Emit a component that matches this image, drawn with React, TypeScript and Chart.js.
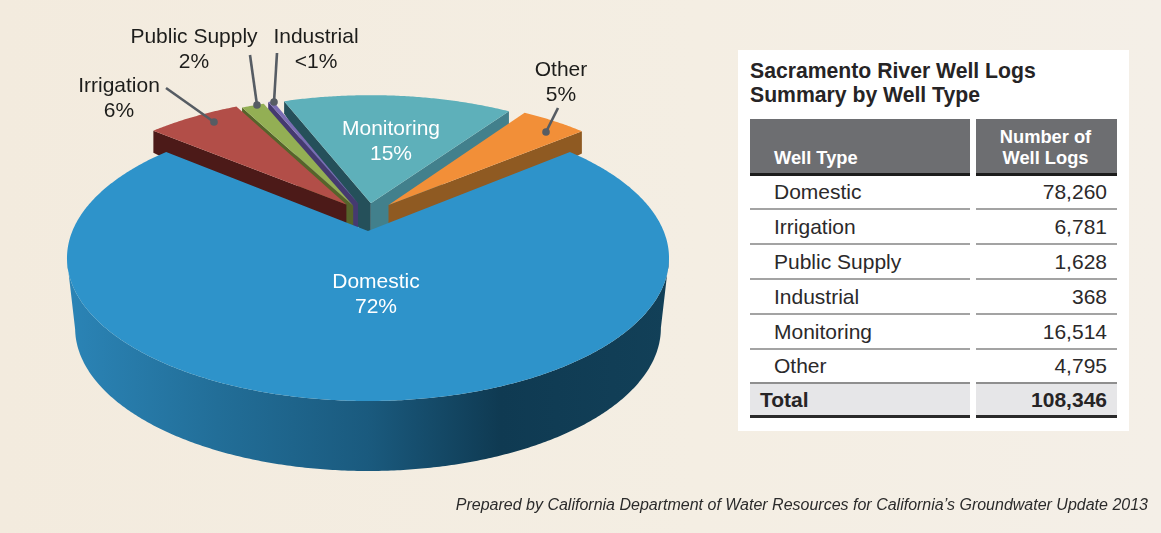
import React, { useEffect, useRef } from "react";
import { Chart, registerables } from "chart.js";

Chart.register(...registerables);

const categories = ["Domestic", "Irrigation", "Public Supply", "Industrial", "Monitoring", "Other"];
const wellLogs = [78260, 6781, 1628, 368, 16514, 4795];
const tableValues = ["78,260", "6,781", "1,628", "368", "16,514", "4,795"];
const percentLabels = ["72%", "6%", "2%", "<1%", "15%", "5%"];
const totalLabel = "108,346";
const topColors = ["#2e93ca", "#b24e48", "#93af54", "#7a6db4", "#5eb0ba", "#f28f38"];
const leftWallColors = ["", "#4c1a18", "#56642a", "#453a70", "#25505a", ""];
const rightWallColors = ["", "", "", "", "#42808c", "#8f5a22"];

// Explosion of each slice on the pie's ground plane, in radii.
const explodeX = [0, -0.076, -0.052, -0.035, 0.01, 0.072];
const explodeY = [0, 0.2, 0.19, 0.21, 0.21, 0.195];
const drawOrder = [4, 3, 2, 1, 5, 0];

// Perspective camera of the pie.
const CX = 368;
const CY = 231;
const SCALE_X = 295.6;
const SCALE_Y = 137.9;
const PERSPECTIVE = 0.1888;
const FRONT_DEPTH = 70;
const FRONT_SHRINK = 0.973;

const project = (x: number, y: number) => {
  const f = 1 + PERSPECTIVE * y;
  return { x: CX + (SCALE_X * x) / f, y: CY - (SCALE_Y * y) / f };
};
const wallDepth = (y: number) => 50 - 33 * y;

// label, centre x, first baseline-middle y, colour
const labelLayout = [
  { x: 376, y: 282.5, color: "#ffffff" },
  { x: 119, y: 86.5, color: "#1d1d1b" },
  { x: 194, y: 37, color: "#1d1d1b" },
  { x: 316, y: 37, color: "#1d1d1b" },
  { x: 391, y: 129, color: "#ffffff" },
  { x: 561, y: 70.5, color: "#1d1d1b" },
];
const leaderLines = [
  [166, 88, 214, 122],
  [250, 55, 257, 105],
  [277, 53, 274, 102],
  [558, 108, 546, 132],
];

const FONT = '"Liberation Sans", Arial, sans-serif';

const piePlugin = {
  id: "perspectivePie",
  beforeDatasetsDraw(chart: any) {
    const ctx: CanvasRenderingContext2D = chart.ctx;
    const arcs = chart.getDatasetMeta(0).data;
    ctx.save();
    for (const i of drawOrder) {
      const arc = arcs[i];
      const { startAngle, endAngle } = arc.getProps(["startAngle", "endAngle"], true);
      const sx = explodeX[i];
      const sy = explodeY[i];
      const world = (a: number) => ({ x: Math.cos(a) + sx, y: -Math.sin(a) + sy });
      const steps = Math.max(4, Math.ceil(((endAngle - startAngle) * 180) / Math.PI / 0.5));
      const rim: { x: number; y: number }[] = [];
      for (let s = 0; s <= steps; s++) rim.push(world(startAngle + ((endAngle - startAngle) * s) / steps));
      const apex = { x: sx, y: sy };

      const wall = (edge: { x: number; y: number }, color: string) => {
        if (!color) return;
        const a = project(apex.x, apex.y);
        const e = project(edge.x, edge.y);
        ctx.beginPath();
        ctx.moveTo(a.x, a.y);
        ctx.lineTo(e.x, e.y);
        ctx.lineTo(e.x, e.y + wallDepth(edge.y));
        ctx.lineTo(a.x, a.y + wallDepth(apex.y));
        ctx.closePath();
        ctx.fillStyle = color;
        ctx.fill();
      };

      if (i === 0) {
        const front = rim.filter((p) => p.y <= -PERSPECTIVE);
        front.sort((p, q) => p.x - q.x);
        const grad = ctx.createLinearGradient(67, 0, 669, 0);
        grad.addColorStop(0, "#2b84b6");
        grad.addColorStop(0.25, "#226e98");
        grad.addColorStop(0.5, "#1a5a7e");
        grad.addColorStop(0.72, "#0f3a52");
        grad.addColorStop(1, "#124058");
        ctx.beginPath();
        front.forEach((p, k) => {
          const q = project(p.x, p.y);
          if (k === 0) ctx.moveTo(q.x, q.y);
          else ctx.lineTo(q.x, q.y);
        });
        [...front].reverse().forEach((p) => {
          const q = project(p.x, p.y);
          ctx.lineTo(CX + (q.x - CX) * FRONT_SHRINK, q.y + FRONT_DEPTH);
        });
        ctx.closePath();
        ctx.fillStyle = grad;
        ctx.fill();
      } else {
        // walls are drawn back to front, then the top face over them
        wall(rim[0], leftWallColors[i]);
        wall(rim[rim.length - 1], rightWallColors[i]);
      }

      ctx.beginPath();
      const a0 = project(apex.x, apex.y);
      ctx.moveTo(a0.x, a0.y);
      rim.forEach((p) => {
        const q = project(p.x, p.y);
        ctx.lineTo(q.x, q.y);
      });
      ctx.closePath();
      ctx.fillStyle = arc.options.backgroundColor;
      ctx.fill();
    }
    ctx.restore();
    return false;
  },
  afterDraw(chart: any) {
    const ctx: CanvasRenderingContext2D = chart.ctx;
    ctx.save();
    ctx.strokeStyle = "#565c63";
    ctx.fillStyle = "#565c63";
    ctx.lineWidth = 2.6;
    for (const [x1, y1, x2, y2] of leaderLines) {
      ctx.beginPath();
      ctx.moveTo(x1, y1);
      ctx.lineTo(x2, y2);
      ctx.stroke();
      ctx.beginPath();
      ctx.arc(x2, y2, 3.8, 0, Math.PI * 2);
      ctx.fill();
    }
    ctx.font = `21px ${FONT}`;
    ctx.textAlign = "center";
    ctx.textBaseline = "middle";
    categories.forEach((name, i) => {
      const l = labelLayout[i];
      ctx.fillStyle = l.color;
      ctx.fillText(name, l.x, l.y);
      ctx.fillText(percentLabels[i], l.x, l.y + 25);
    });
    ctx.restore();
  },
};

const abs = (left: number, top: number, width: number, height: number, extra: React.CSSProperties = {}): React.CSSProperties => ({
  position: "absolute",
  left,
  top,
  width,
  height,
  ...extra,
});

const COL1 = { x: 750, w: 220 };
const COL2 = { x: 976, w: 141 };
const ROW_TOP = 176;
const ROW_STEP = 34.8;

export default function App() {
  const ref = useRef<HTMLCanvasElement>(null);
  useEffect(() => {
    const chart = new Chart(ref.current!, {
      type: "pie",
      data: {
        labels: categories,
        datasets: [{ data: wellLogs, backgroundColor: topColors, borderWidth: 0 }],
      },
      options: {
        responsive: false,
        animation: false,
        rotation: 50,
        plugins: { legend: { display: false }, tooltip: { enabled: false } },
      },
      plugins: [piePlugin],
    } as any);
    return () => chart.destroy();
  }, []);

  const cell = (x: number, w: number, y: number, h: number, text: string, align: "left" | "right", pad: number, style: React.CSSProperties = {}) => (
    <div
      key={`${x}-${y}-${text}`}
      style={abs(x, y, w, h, {
        display: "flex",
        alignItems: "center",
        justifyContent: align === "left" ? "flex-start" : "flex-end",
        paddingLeft: align === "left" ? pad : 0,
        paddingRight: align === "right" ? pad : 0,
        boxSizing: "border-box",
        ...style,
      })}
    >
      {text}
    </div>
  );

  return (
    <div
      style={abs(0, 0, 1161, 533, {
        background: "linear-gradient(90deg, #f3ebde 0%, #f4eee3 60%, #f4efe7 100%)",
        fontFamily: FONT,
        color: "#231f20",
        overflow: "hidden",
      })}
    >
      <canvas ref={ref} width={1161} height={533} style={abs(0, 0, 1161, 533, { display: "block" })} />
      <div style={abs(738, 50, 391, 381, { background: "#ffffff" })} />
      <div style={abs(750, 59, 370, 52, { fontWeight: 700, fontSize: 21.2, lineHeight: "24px", color: "#262425" })}>
        Sacramento River Well Logs
        <br />
        Summary by Well Type
      </div>
      <div style={abs(COL1.x, 119, COL1.w, 54, { background: "#6d6e71", borderBottom: "3px solid #1c1c1c" })} />
      <div style={abs(COL2.x, 119, COL2.w, 54, { background: "#6d6e71", borderBottom: "3px solid #1c1c1c" })} />
      <div style={abs(774, 146, 180, 24, { color: "#ffffff", fontWeight: 700, fontSize: 18.3, lineHeight: "24px" })}>Well Type</div>
      <div style={abs(COL2.x, 127, COL2.w, 44, { color: "#ffffff", fontWeight: 700, fontSize: 18.3, lineHeight: "20.5px", textAlign: "center", paddingRight: 2, boxSizing: "border-box" })}>
        Number of
        <br />
        Well Logs
      </div>
      {categories.map((name, i) => {
        const y = ROW_TOP + i * ROW_STEP;
        return (
          <React.Fragment key={name}>
            {cell(COL1.x, COL1.w, y, ROW_STEP - 2, name, "left", 24, { fontSize: 21, color: "#2b292a" })}
            {cell(COL2.x, COL2.w, y, ROW_STEP - 2, tableValues[i], "right", 10, { fontSize: 21, color: "#2b292a" })}
            {i < categories.length - 1 && <div style={abs(COL1.x, y + ROW_STEP - 2.5, COL1.w, 2, { background: "#a3a3a3" })} />}
            {i < categories.length - 1 && <div style={abs(COL2.x, y + ROW_STEP - 2.5, COL2.w, 2, { background: "#a3a3a3" })} />}
          </React.Fragment>
        );
      })}
      <div style={abs(COL1.x, 382, COL1.w, 36, { background: "#e6e6e8", borderTop: "2px solid #8f8f8f", borderBottom: "3px solid #2a2a2a", boxSizing: "border-box" })} />
      <div style={abs(COL2.x, 382, COL2.w, 36, { background: "#e6e6e8", borderTop: "2px solid #8f8f8f", borderBottom: "3px solid #2a2a2a", boxSizing: "border-box" })} />
      {cell(COL1.x, COL1.w, 384, 31, "Total", "left", 10, { fontSize: 21, fontWeight: 700, color: "#262425" })}
      {cell(COL2.x, COL2.w, 384, 31, totalLabel, "right", 10, { fontSize: 21, fontWeight: 700, color: "#262425" })}
      <div style={abs(300, 495, 848, 20, { textAlign: "right", fontStyle: "italic", fontSize: 16, lineHeight: "20px", color: "#2b2b2b" })}>
        Prepared by California Department of Water Resources for California’s Groundwater Update 2013
      </div>
    </div>
  );
}
